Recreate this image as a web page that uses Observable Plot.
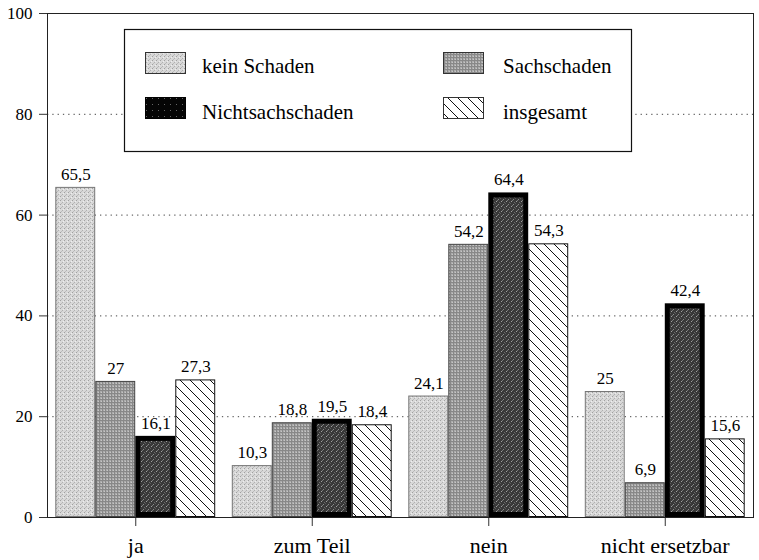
<!DOCTYPE html>
<html><head><meta charset="utf-8">
<script src="https://cdn.jsdelivr.net/npm/d3@7"></script>
<script src="https://cdn.jsdelivr.net/npm/@observablehq/plot@0.6"></script>
<style>
body{margin:0;background:#fff}
#chart svg, #chart svg text { font-family: "Liberation Serif", "Times New Roman", serif !important; }
</style>
</head><body>
<svg width="0" height="0" style="position:absolute">
<defs>
<pattern id="pKein" width="4" height="4" patternUnits="userSpaceOnUse">
<rect width="4" height="4" fill="#d8d8d8"/>
<rect x="0" y="0" width="1" height="1" fill="#a0a0a0"/>
<rect x="2" y="2" width="1" height="1" fill="#b0b0b0"/>
<rect x="3" y="1" width="1" height="1" fill="#eeeeee"/>
<rect x="1" y="3" width="1" height="1" fill="#bcbcbc"/>
</pattern>
<pattern id="pSach" width="3" height="3" patternUnits="userSpaceOnUse">
<rect width="3" height="3" fill="#acacac"/>
<rect x="0" y="0" width="3" height="1" fill="#888"/>
<rect x="0" y="0" width="1" height="3" fill="#888"/>
<rect x="2" y="2" width="1" height="1" fill="#c6c6c6"/>
</pattern>
<pattern id="pNicht" width="5" height="5" patternUnits="userSpaceOnUse">
<rect width="5" height="5" fill="#383838"/>
<rect x="1" y="1" width="1" height="1" fill="#a0a0a0"/>
<rect x="3" y="4" width="1" height="1" fill="#8a8a8a"/>
<rect x="4" y="2" width="1" height="1" fill="#6a6a6a"/>
<rect x="0" y="3" width="1" height="1" fill="#5a5a5a"/>
<rect x="2" y="0" width="1" height="1" fill="#777"/>
</pattern>
<pattern id="pHatch" width="10" height="10" patternUnits="userSpaceOnUse">
<rect width="10" height="10" fill="#fff"/>
<path d="M0,0L10,10M-5,5L5,15M5,-5L15,5" stroke="#111" stroke-width="1"/>
</pattern>
<pattern id="pNichtLeg" width="6" height="6" patternUnits="userSpaceOnUse">
<rect width="6" height="6" fill="#050505"/>
<rect x="2" y="2" width="1" height="1" fill="#666"/>
</pattern>
</defs></svg>
<div id="chart"></div>
<script>
const categories = ["ja", "zum Teil", "nein", "nicht ersetzbar"];
const seriesNames = ["kein Schaden", "Sachschaden", "Nichtsachschaden", "insgesamt"];
const keinSchaden = [65.5, 10.3, 24.1, 25];
const sachschaden = [27, 18.8, 54.2, 6.9];
const nichtsachschaden = [16.1, 19.5, 64.4, 42.4];
const insgesamt = [27.3, 18.4, 54.3, 15.6];
const yTicks = [0, 20, 40, 60, 80, 100];
const gridTicks = [20, 40, 60, 80];

const seriesValues = [keinSchaden, sachschaden, nichtsachschaden, insgesamt];
const styles = [
  {fill: "url(#pKein)", stroke: "#777", sw: 1, inset: 0.5},
  {fill: "url(#pSach)", stroke: "#444", sw: 1, inset: 0.5},
  {fill: "url(#pNicht)", stroke: "#000", sw: 5, inset: 2.5},
  {fill: "url(#pHatch)", stroke: "#111", sw: 1, inset: 0.5}
];
const legendFills = ["url(#pKein)", "url(#pSach)", "url(#pNichtLeg)", "url(#pHatch)"];
const fmt = v => String(v).replace(".", ",");
const BW = 40;
const font = "Liberation Serif, Times New Roman, serif";

const marks = [Plot.ruleY(gridTicks, {stroke: "#444", strokeDasharray: "1.3,4"})];
seriesValues.forEach((vals, i) => {
  const data = categories.map((c, j) => ({cat: c, v: vals[j]}));
  const s = styles[i];
  marks.push(Plot.barY(data, {
    x: "cat", y: "v",
    insetLeft: i * BW + s.inset, insetRight: (3 - i) * BW + s.inset,
    insetTop: s.inset, insetBottom: s.inset,
    fill: s.fill, stroke: s.stroke, strokeWidth: s.sw
  }));
});
seriesValues.forEach((vals, i) => {
  const data = categories.map((c, j) => ({cat: c, v: vals[j]}));
  marks.push(Plot.text(data, {
    x: "cat", y: "v", text: d => fmt(d.v), dx: (i - 1.5) * BW, dy: -7.5,
    lineAnchor: "bottom", fontSize: 17, fill: "#000", fontFamily: font
  }));
});
marks.push(Plot.axisX({tickSize: 9, tickPadding: 11, fontSize: 22, label: null, stroke: "#333", fontFamily: font}));
marks.push(Plot.axisY({ticks: yTicks, tickSize: 8, tickPadding: 7, fontSize: 17, label: null, stroke: "#333", fontFamily: font}));
marks.push(Plot.frame({stroke: "#222"}));

const plot = Plot.plot({
  width: 759, height: 560,
  marginLeft: 47, marginRight: 6, marginTop: 13, marginBottom: 43,
  style: {color: "#000", background: "#fff"},
  x: {domain: categories, paddingInner: 0.094, paddingOuter: 0.047, round: false},
  y: {domain: [0, 100]},
  marks
});

const svg = d3.select(plot);
const g = svg.append("g").attr("font-family", font).attr("text-anchor", "start");
g.append("rect").attr("x", 124.5).attr("y", 29.5).attr("width", 507).attr("height", 122)
  .attr("fill", "#fff").attr("stroke", "#111").attr("stroke-width", 1.2);
const legPos = [
  {sx: 145, sy: 52, tx: 202, ty: 73},
  {sx: 443, sy: 52, tx: 503, ty: 73},
  {sx: 145, sy: 97, tx: 202, ty: 119},
  {sx: 443, sy: 97, tx: 503, ty: 119}
];
seriesNames.forEach((name, i) => {
  const p = legPos[i];
  g.append("rect").attr("x", p.sx + 0.5).attr("y", p.sy + 0.5).attr("width", 40).attr("height", 21)
    .attr("fill", legendFills[i]).attr("stroke", i === 2 ? "#000" : "#333").attr("stroke-width", 1);
  g.append("text").attr("x", p.tx).attr("y", p.ty).attr("font-size", 21).attr("fill", "#000")
    .attr("text-anchor", "start").text(name);
});

document.getElementById("chart").appendChild(plot);
</script>
</body></html>
